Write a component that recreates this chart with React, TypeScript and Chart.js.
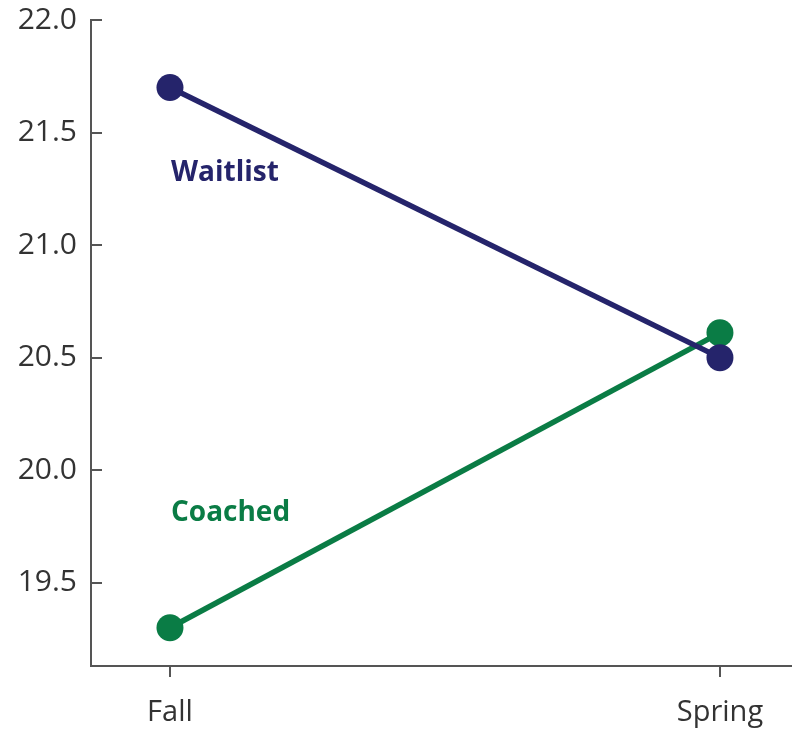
import React, { useEffect, useRef } from "react";
import { Chart, registerables } from "chart.js";

Chart.register(...registerables);

const categories = ["Fall", "Spring"];
const waitlist = [21.7, 20.5];
const coached = [19.3, 20.61];
const yTickValues = [19.5, 20.0, 20.5, 21.0, 21.5, 22.0];
const seriesNames = ["Waitlist", "Coached"];
const labelAnchorY = [21.32, 19.81];

const NAVY = "#25246b";
const GREEN = "#0a7c45";
const AXIS = "#555555";
const TEXT = "#333333";
const FONT = "'Open Sans', 'Noto Sans', sans-serif";

export default function App() {
  const ref = useRef<HTMLCanvasElement | null>(null);

  useEffect(() => {
    if (!ref.current) return;
    const annot = {
      id: "annot",
      afterDraw(chart: any) {
        const ctx = chart.ctx;
        const ys = chart.scales.y;
        const xs = chart.scales.x;
        ctx.save();
        ctx.strokeStyle = AXIS;
        ctx.lineWidth = 2;
        ys.ticks.forEach((t: any) => {
          const py = Math.round(ys.getPixelForValue(t.value));
          ctx.beginPath();
          ctx.moveTo(ys.right, py);
          ctx.lineTo(ys.right + 11, py);
          ctx.stroke();
        });
        ctx.font = `bold 28px ${FONT}`;
        ctx.textAlign = "left";
        ctx.textBaseline = "middle";
        const colors = [NAVY, GREEN];
        seriesNames.forEach((n, i) => {
          ctx.fillStyle = colors[i];
          ctx.fillText(n, xs.getPixelForValue(0) + 1, ys.getPixelForValue(labelAnchorY[i]));
        });
        ctx.restore();
      },
    };

    const chart = new Chart(ref.current, {
      type: "line",
      data: {
        datasets: [
          {
            label: seriesNames[0],
            data: waitlist.map((v, i) => ({ x: i, y: v })),
            borderColor: NAVY,
            backgroundColor: NAVY,
            borderWidth: 5.5,
            pointRadius: 13.5,
            pointBorderWidth: 0,
            pointBackgroundColor: NAVY,
          },
          {
            label: seriesNames[1],
            data: coached.map((v, i) => ({ x: i, y: v })),
            borderColor: GREEN,
            backgroundColor: GREEN,
            borderWidth: 5.5,
            pointRadius: 13.5,
            pointBorderWidth: 0,
            pointBackgroundColor: GREEN,
          },
        ],
      },
      options: {
        responsive: false,
        animation: false,
        layout: { autoPadding: false, padding: { top: 20, left: 0, right: 0, bottom: 0 } },
        plugins: { legend: { display: false }, tooltip: { enabled: false } },
        scales: {
          x: {
            type: "linear",
            min: -0.1436,
            max: 1.131,
            afterBuildTicks(scale: any) {
              scale.ticks = categories.map((_, i) => ({ value: i }));
            },
            afterFit(scale: any) {
              scale.height = 65;
              scale.paddingLeft = 0;
              scale.paddingRight = 0;
            },
            ticks: {
              callback: (v: any) => categories[v as number] ?? "",
              color: TEXT,
              font: { family: FONT, size: 29 },
              padding: 18,
              maxRotation: 0,
              autoSkip: false,
            },
            grid: {
              drawOnChartArea: false,
              drawTicks: true,
              tickLength: 11,
              color: AXIS,
              lineWidth: 2,
            },
            border: { display: true, color: AXIS, width: 2 },
          },
          y: {
            min: 19.13,
            max: 22.0,
            afterBuildTicks(scale: any) {
              scale.ticks = yTickValues.map((v) => ({ value: v }));
            },
            afterFit(scale: any) {
              scale.width = 91;
              scale.paddingTop = 0;
              scale.paddingBottom = 0;
            },
            ticks: {
              callback: (v: any) => Number(v).toFixed(1),
              color: TEXT,
              font: { family: FONT, size: 30 },
              padding: 14,
            },
            grid: { drawOnChartArea: false, drawTicks: false },
            border: { display: true, color: AXIS, width: 2 },
          },
        },
      },
      plugins: [annot],
    });
    return () => chart.destroy();
  }, []);

  return (
    <div style={{ position: "absolute", left: 0, top: 0, width: 792, height: 731, background: "#fff" }}>
      <canvas ref={ref} width={792} height={731} style={{ display: "block" }} />
    </div>
  );
}
